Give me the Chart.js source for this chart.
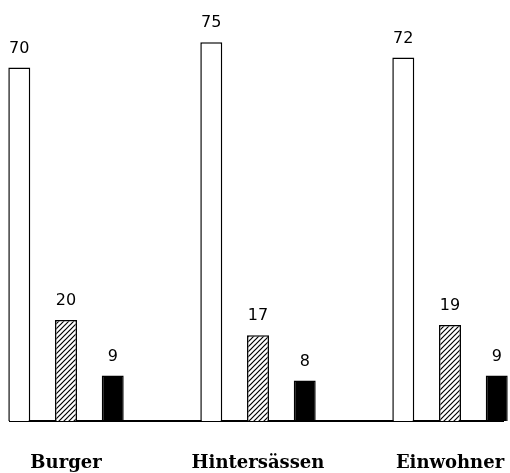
<!DOCTYPE html>
<html>
<head>
<meta charset="utf-8">
<script src="https://cdn.jsdelivr.net/npm/chart.js@4/dist/chart.umd.min.js"></script>
<style>
  html, body { margin: 0; padding: 0; background: #fff; }
  #wrap { width: 510px; height: 473px; }
</style>
</head>
<body>
<div id="wrap"><canvas id="c" width="510" height="473"></canvas></div>
<script>
const categories = ["Burger", "Hintersässen", "Einwohner"];
const seriesWhite = [70, 75, 72];
const seriesHatched = [20, 17, 19];
const seriesBlack = [9, 8, 9];

function makeHatch() {
  const s = 5;
  const p = document.createElement('canvas');
  p.width = s; p.height = s;
  const g = p.getContext('2d');
  g.fillStyle = '#fff';
  g.fillRect(0, 0, s, s);
  g.strokeStyle = '#000';
  g.lineWidth = 1.2;
  g.beginPath();
  g.moveTo(0, s); g.lineTo(s, 0);
  g.moveTo(-s / 2, s / 2); g.lineTo(s / 2, -s / 2);
  g.moveTo(s / 2, s * 1.5); g.lineTo(s * 1.5, s / 2);
  g.stroke();
  return g.createPattern(p, 'repeat');
}
const hatch = makeHatch();

const toPoints = arr => arr.map((v, i) => ({ x: i, y: v }));

const valueLabels = {
  id: 'valueLabels',
  afterDatasetsDraw(chart) {
    const ctx = chart.ctx;
    ctx.save();
    ctx.font = '16px "DejaVu Sans", sans-serif';
    ctx.fillStyle = '#000';
    ctx.textAlign = 'center';
    ctx.textBaseline = 'bottom';
    chart.data.datasets.forEach((ds, di) => {
      const meta = chart.getDatasetMeta(di);
      meta.data.forEach((bar, i) => {
        ctx.fillText(String(ds.data[i].y), bar.x, bar.y - 11);
      });
    });
    ctx.restore();
  }
};

new Chart(document.getElementById('c'), {
  type: 'bar',
  data: {
    datasets: [
      { data: toPoints(seriesWhite), backgroundColor: '#fff', borderColor: '#000', borderWidth: 1.5, clip: false },
      { data: toPoints(seriesHatched), backgroundColor: hatch, borderColor: '#000', borderWidth: 1.5, clip: false },
      { data: toPoints(seriesBlack), backgroundColor: '#000', borderColor: '#000', borderWidth: 1.5, clip: false }
    ]
  },
  options: {
    responsive: false,
    animation: false,
    devicePixelRatio: 1,
    layout: { padding: { left: 10, right: 7, top: 17, bottom: 0 } },
    plugins: { legend: { display: false }, tooltip: { enabled: false } },
    datasets: { bar: { categoryPercentage: 0.73, barPercentage: 0.47 } },
    scales: {
      x: {
        type: 'linear',
        offset: false,
        min: -0.2917,
        max: 2.276,
        grid: { display: false, drawTicks: false, offset: false },
        border: { display: true, color: '#000', width: 2 },
        afterBuildTicks: axis => { axis.ticks = categories.map((c, i) => ({ value: i })); },
        afterFit: axis => { axis.height = 52; axis.paddingLeft = 0; axis.paddingRight = 0; },
        ticks: {
          autoSkip: false,
          maxRotation: 0,
          padding: 32,
          color: '#000',
          font: { family: '"DejaVu Serif", serif', size: 18, weight: 'bold' },
          callback: v => categories[v]
        }
      },
      y: {
        display: false,
        min: 0,
        max: 80
      }
    }
  },
  plugins: [valueLabels]
});
</script>
</body>
</html>
